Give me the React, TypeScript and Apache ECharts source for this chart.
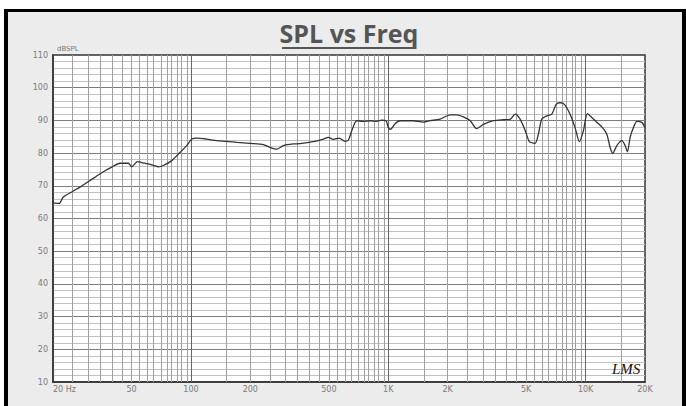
import React, { useEffect, useRef } from "react";
import * as echarts from "echarts";

// Frequency response (Hz) and SPL (dB)
const freqs = [20, 21.5, 22.5, 25, 27.4, 30.8, 33.3, 36, 39.7, 43.7, 48.2, 50.1, 53.5, 56.3, 60.8, 65, 68.4, 72.4, 80, 88, 95.2, 101, 107, 120, 135, 152, 171, 199, 233, 257, 272, 294, 330, 357, 417, 469, 497, 527, 565, 604, 628, 653, 692, 748, 809, 874, 927, 975, 1001, 1029, 1082, 1147, 1340, 1506, 1629, 1830, 2057, 2224, 2402, 2597, 2809, 3033, 3408, 3831, 4143, 4392, 4657, 4936, 5191, 5546, 5764, 5999, 6360, 6742, 7088, 7425, 7808, 8344, 8845, 9302, 9745, 10211, 10953, 12084, 12809, 13313, 13740, 14398, 15262, 15860, 16292, 16814, 17474, 18181, 19262, 20000];
const spl = [64.8, 64.6, 66.5, 68.2, 69.6, 71.6, 73.0, 74.3, 75.7, 76.9, 76.9, 75.8, 77.4, 77.1, 76.7, 76.2, 75.8, 76.2, 77.7, 80.2, 82.3, 84.3, 84.6, 84.3, 83.8, 83.6, 83.3, 83.0, 82.6, 81.5, 81.2, 82.3, 82.8, 82.9, 83.5, 84.3, 84.8, 84.2, 84.6, 83.6, 84.0, 86.8, 89.9, 89.7, 89.9, 89.7, 90.1, 89.9, 87.8, 87.3, 89.0, 89.9, 89.9, 89.5, 89.9, 90.4, 91.7, 91.7, 91.1, 90.0, 87.5, 88.8, 89.9, 90.2, 90.3, 91.9, 90.4, 87.0, 83.5, 83.0, 85.8, 90.4, 91.4, 91.9, 94.9, 95.4, 94.9, 91.9, 87.8, 83.5, 86.8, 92.1, 90.4, 88.0, 85.8, 81.7, 79.9, 82.3, 83.8, 82.3, 80.4, 84.8, 87.8, 89.7, 89.4, 87.8];

// Axis labels
const xLabelFreqs = [20, 50, 100, 200, 500, 1000, 2000, 5000, 10000, 20000];
const xLabelTexts = ["20 Hz", "50", "100", "200", "500", "1K", "2K", "5K", "10K", "20K"];
const F_MIN = 20;
const F_MAX = 20000;
const Y_MIN = 10;
const Y_MAX = 110;

// Vertical grid: multiples within each decade
const gridDecades = [10, 100, 1000, 10000];
const gridSteps = [1.5, 2, 2.5, 3, 3.5, 4, 4.5, 5, 5.5, 6, 6.5, 7, 7.5, 8, 8.5, 9, 9.5, 10];

export default function App() {
  const ref = useRef<HTMLDivElement>(null);

  useEffect(() => {
    if (!ref.current) return;
    const chart = echarts.init(ref.current, undefined, { renderer: "svg" });

    const lg = (f: number) => Math.log10(f);
    const data = freqs.map((f, i) => [lg(f), spl[i]]);

    const gridLines: any[] = [];
    gridDecades.forEach((d) => {
      gridSteps.forEach((s) => {
        const f = d * s;
        if (f > F_MIN * 1.0001 && f < F_MAX * 0.9999) {
          const major = s === 10;
          gridLines.push({
            xAxis: lg(f),
            lineStyle: {
              color: major ? "#666666" : "#a0a0a0",
              width: 1,
              type: "solid",
            },
          });
        }
      });
    });

    const option: any = {
      animation: false,
      backgroundColor: "#ffffff",
      grid: {
        left: 53,
        top: 55,
        right: 41,
        bottom: 24,
        show: true,
        backgroundColor: "#ffffff",
        borderColor: "#333333",
        borderWidth: 1.5,
      },
      xAxis: {
        type: "value",
        min: lg(F_MIN),
        max: lg(F_MAX),
        axisLine: { show: true, lineStyle: { color: "#333", width: 1.5 } },
        axisTick: { show: false },
        splitLine: { show: false },
        axisLabel: {
          customValues: xLabelFreqs.map(lg),
          formatter: (v: number) => {
            const i = xLabelFreqs.findIndex((f) => Math.abs(lg(f) - v) < 1e-6);
            return i >= 0 ? xLabelTexts[i] : "";
          },
          color: "#7a7a7a",
          fontSize: 8,
          fontFamily: "DejaVu Sans",
          margin: 3,
          alignMinLabel: "left",
          hideOverlap: false,
          showMinLabel: true,
          showMaxLabel: true,
        },
      },
      yAxis: {
        type: "value",
        min: Y_MIN,
        max: Y_MAX,
        interval: 10,
        name: "dBSPL",
        nameLocation: "end",
        nameGap: 3,
        nameTextStyle: {
          color: "#777",
          fontSize: 7,
          fontFamily: "DejaVu Sans",
          align: "left",
          padding: [0, 0, 0, 4],
        },
        axisLine: { show: true, lineStyle: { color: "#333", width: 1.5 } },
        axisTick: { show: false },
        axisLabel: {
          color: "#7a7a7a",
          fontSize: 8,
          fontFamily: "DejaVu Sans",
          margin: 5,
        },
        splitLine: {
          show: true,
          showMinLine: false,
          showMaxLine: false,
          lineStyle: { color: "#7d7d7d", width: 1 },
        },
        minorTick: { show: false, splitNumber: 5 },
        minorSplitLine: { show: true, lineStyle: { color: "#c2c2c2", width: 1 } },
      },
      graphic: [
        {
          type: "rect",
          z: -10,
          shape: { x: 4, y: 9, width: 682, height: 397 },
          style: { fill: "#000000" },
          silent: true,
        },
        {
          type: "rect",
          z: -9,
          shape: { x: 8, y: 12, width: 674, height: 394 },
          style: { fill: "#ececec" },
          silent: true,
        },
        {
          type: "text",
          z: 100,
          x: 349,
          y: 20,
          style: {
            text: "SPL vs Freq",
            fill: "#555555",
            font: "bold 25px 'Open Sans', sans-serif",
            align: "center",
            verticalAlign: "top",
          },
          silent: true,
        },
        {
          type: "rect",
          z: 100,
          shape: { x: 282, y: 47, width: 134, height: 2 },
          style: { fill: "#555555" },
          silent: true,
        },
        {
          type: "text",
          z: 100,
          x: 612,
          y: 361,
          style: {
            text: "LMS",
            fill: "#111111",
            font: "italic 15px 'Liberation Serif', serif",
            verticalAlign: "top",
          },
          silent: true,
        },
      ],
      series: [
        {
          type: "line",
          data: [],
          z: 1,
          silent: true,
          markLine: {
            silent: true,
            symbol: ["none", "none"],
            label: { show: false },
            animation: false,
            data: gridLines,
          },
        },
        {
          type: "line",
          data,
          z: 5,
          showSymbol: false,
          smooth: 0.25,
          lineStyle: { color: "#333333", width: 1.3 },
        },
      ],
    };

    chart.setOption(option);
    return () => chart.dispose();
  }, []);

  return (
    <div
      ref={ref}
      style={{ position: "fixed", left: 0, top: 0, width: 686, height: 406 }}
    />
  );
}
